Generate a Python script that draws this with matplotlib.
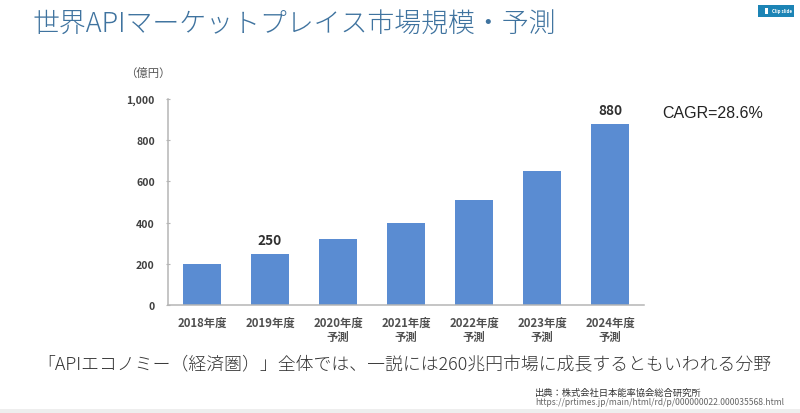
import matplotlib
matplotlib.use("Agg")
import matplotlib.pyplot as plt
from matplotlib.patches import Rectangle

plt.rcParams["font.family"] = ["Noto Sans CJK JP", "DejaVu Sans"]

W, H = 800, 414

years = ["2018年度", "2019年度", "2020年度\n予測", "2021年度\n予測", "2022年度\n予測",
         "2023年度\n予測", "2024年度\n予測"]
market_size = [200, 250, 320, 400, 510, 650, 880]
labelled = [250, 880]
y_ticks = [0, 200, 400, 600, 800, 1000]
y_tick_labels = ["0", "200", "400", "600", "800", "1,000"]

TITLE = "世界APIマーケットプレイス市場規模・予測"
CAPTION = "「APIエコノミー（経済圏）」全体では、一説には260兆円市場に成長するともいわれる分野"
SOURCE = "出典：株式会社日本能率協会総合研究所"
URL = "https://prtimes.jp/main/html/rd/p/000000022.000035568.html"

fig = plt.figure(figsize=(W / 100, H / 100), dpi=100, facecolor="white")

# 全体座標はピクセル基準(上が0)
bg = fig.add_axes([0, 0, 1, 1])
bg.set_xlim(0, W); bg.set_ylim(H, 0)
bg.axis("off")
bg.add_patch(Rectangle((0, 410), W, 4, color="#eeeeee", lw=0))
bg.add_patch(Rectangle((758, 6), 36, 12, color="#1c84b5", lw=0))
bg.add_patch(Rectangle((764.5, 9), 3.5, 6, color="white", lw=0))
bg.text(782, 12, "Clip slide", color="white", fontsize=3.2, fontweight="bold",
        ha="center", va="center")
bg.text(33, 25, TITLE, color="#3f739f", fontsize=19.4, fontweight="light",
        ha="left", va="center")
bg.text(37, 365, CAPTION, color="#333333", fontsize=12.85, fontweight="light",
        ha="left", va="center")
bg.text(535, 393, SOURCE, color="#333333", fontsize=6.7, ha="left", va="center")
bg.text(535, 403, URL, color="#666666", fontsize=6.15, ha="left", va="center")
bg.text(662, 114, "CAGR=28.6%", color="#222222", fontsize=11.5,
        family=["Liberation Sans"], ha="left", va="center")
bg.text(148, 73, "（億円）", color="#555555", fontsize=8.2, ha="center", va="center")

ax = fig.add_axes([168 / W, 1 - 306 / H, 476 / W, 206 / H])
ax.patch.set_alpha(0)
bars = ax.bar(range(len(years)), market_size, width=0.56, color="#5a8cd2")
ax.set_xlim(-0.5, len(years) - 0.5)
ax.set_ylim(0, 1000)
ax.set_yticks(y_ticks, y_tick_labels, color="#404040", fontsize=7.6, fontweight="bold")
ax.set_xticks(range(len(years)), years, color="#505050", fontsize=8.2, fontweight="bold",
              linespacing=1.15)
ax.tick_params(axis="y", length=3, width=0.8, color="#b5b5b5", direction="inout", pad=8)
ax.tick_params(axis="x", length=0, pad=7.5)
for s in ("top", "right"):
    ax.spines[s].set_visible(False)
for s in ("left", "bottom"):
    ax.spines[s].set_color("#b5b5b5")
    ax.spines[s].set_linewidth(1.1)

for i, v in enumerate(market_size):
    if v in labelled:
        ax.annotate(f"{v}", (i, v), xytext=(0, 5), textcoords="offset points",
                    ha="center", va="bottom", color="#303030", fontsize=9.8,
                    fontweight="bold")

fig.savefig("out.png", dpi=100, facecolor="white")
plt.close(fig)
